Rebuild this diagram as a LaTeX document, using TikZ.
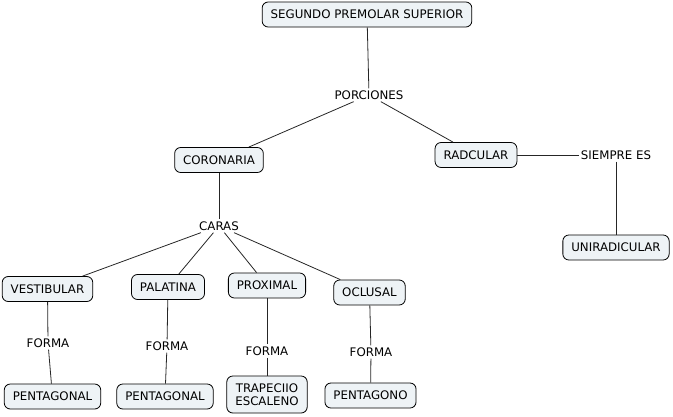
\documentclass[tikz,border=0pt]{standalone}
\usepackage{fontspec}
\setmainfont{DejaVu Sans}
\definecolor{conceptfill}{RGB}{238,243,246}
\tikzset{
    concept/.style={draw, rounded corners=6pt, fill=conceptfill, line width=0.8pt,
        inner xsep=8.5pt, inner ysep=6pt, minimum height=25pt,
        font=\fontsize{11.8}{13}\selectfont, align=center},
    linkword/.style={inner sep=2pt, font=\fontsize{11.8}{13}\selectfont},
    link/.style={line width=0.8pt, draw=black!85}
}
\begin{document}
\begin{tikzpicture}[x=1pt, y=-1pt]
    \useasboundingbox (0,0) rectangle (673,416);

    \node[concept] (segundo) at (367,14.5) {SEGUNDO PREMOLAR SUPERIOR};
    \node[linkword] (porciones) at (369,95) {PORCIONES};
    \node[concept] (coronaria) at (219,160) {CORONARIA};
    \node[concept] (radcular) at (476,155) {RADCULAR};
    \node[linkword] (siempre) at (616,155) {SIEMPRE ES};
    \node[concept] (uniradicular) at (616,247.5) {UNIRADICULAR};
    \node[linkword] (caras) at (219,226) {CARAS};

    \node[concept] (vestibular) at (47.5,289) {VESTIBULAR};
    \node[concept] (palatina) at (168,287) {PALATINA};
    \node[concept] (proximal) at (267,285.5) {PROXIMAL};
    \node[concept] (oclusal) at (369.5,292.5) {OCLUSAL};

    \node[linkword] (formaA) at (48,343) {FORMA};
    \node[linkword] (formaB) at (167,346) {FORMA};
    \node[linkword] (formaC) at (267,351) {FORMA};
    \node[linkword] (formaD) at (371,352) {FORMA};

    \node[concept] (pentagonalA) at (52.5,396.5) {PENTAGONAL};
    \node[concept] (pentagonalB) at (165,396.5) {PENTAGONAL};
    \node[concept, minimum height=37pt] (trapecio) at (267,394.5) {TRAPECIIO\\ESCALENO};
    \node[concept] (pentagono) at (370.5,395.5) {PENTAGONO};

    \draw[link] (segundo) -- (porciones);
    \draw[link] (porciones) -- (coronaria);
    \draw[link] (porciones) -- (radcular);
    \draw[link] (radcular) -- (siempre);
    \draw[link] (siempre) -- (uniradicular);
    \draw[link] (coronaria) -- (caras);

    \foreach \face/\forma/\shape in {vestibular/formaA/pentagonalA,
        palatina/formaB/pentagonalB, proximal/formaC/trapecio,
        oclusal/formaD/pentagono} {
        \draw[link] (caras) -- (\face);
        \draw[link] (\face) -- (\forma);
        \draw[link] (\forma) -- (\shape);
    }
\end{tikzpicture}
\end{document}
